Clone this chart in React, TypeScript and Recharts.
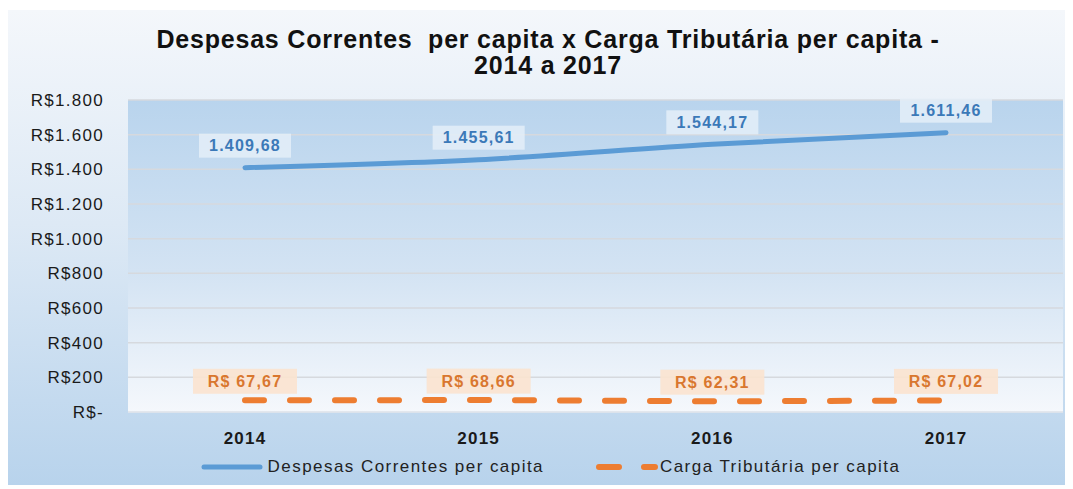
import { CartesianGrid, LabelList, Legend, Line, LineChart, XAxis, YAxis } from "recharts";

const years = ["2014", "2015", "2016", "2017"];
const despesas = [1409.68, 1455.61, 1544.17, 1611.46];
const carga = [67.67, 68.66, 62.31, 67.02];
const yTicks = [0, 200, 400, 600, 800, 1000, 1200, 1400, 1600, 1800];

const data = years.map((year, i) => ({
  year,
  despesas: despesas[i],
  carga: carga[i],
}));

const FONT = "'Liberation Sans', Arial, sans-serif";
const BLUE = "#5b9bd5";
const ORANGE = "#ed7d31";

const brl = (v: number) =>
  v.toFixed(2).replace(".", ",").replace(/\B(?=(\d{3})+(?!\d))/g, ".");

const yFmt = (v: number) =>
  v === 0 ? "R$-" : "R$" + String(v).replace(/\B(?=(\d{3})+(?!\d))/g, ".");

const BlueLabel = (props: any) => {
  const { x, y, value } = props;
  const cy = y - 22;
  return (
    <g>
      <rect x={x - 46} y={cy - 12} width={92} height={24} fill="#e4eef8" fillOpacity={0.85} />
      <text
        x={x}
        y={cy}
        textAnchor="middle"
        dominantBaseline="central"
        fill="#3b79b8"
        fontFamily={FONT}
        fontWeight="bold"
        fontSize={16}
        letterSpacing={1.2}
      >
        {brl(value)}
      </text>
    </g>
  );
};

const OrangeLabel = (props: any) => {
  const { x, y, value } = props;
  const cy = y - 19;
  return (
    <g>
      <rect x={x - 52} y={cy - 12.5} width={104} height={25} fill="#fbe3cf" fillOpacity={0.9} />
      <text
        x={x}
        y={cy}
        textAnchor="middle"
        dominantBaseline="central"
        fill="#d9772f"
        fontFamily={FONT}
        fontWeight="bold"
        fontSize={16}
        letterSpacing={1.2}
      >
        {"R$ " + brl(value)}
      </text>
    </g>
  );
};

// legenda desenhada à mão para imitar o estilo do Excel
const renderLegend = () => (
  <div
    style={{
      display: "flex",
      justifyContent: "center",
      alignItems: "center",
      fontFamily: FONT,
      fontSize: 17,
      letterSpacing: 1.45,
      color: "#222",
      height: 26,
      paddingLeft: 30,
    }}
  >
    <svg width={62} height={10}>
      <line x1={3} y1={5} x2={59} y2={5} stroke={BLUE} strokeWidth={5} strokeLinecap="round" />
    </svg>
    <span style={{ marginLeft: 5, marginRight: 52 }}>Despesas Correntes per capita</span>
    <svg width={62} height={10}>
      <line
        x1={3}
        y1={5}
        x2={59}
        y2={5}
        stroke={ORANGE}
        strokeWidth={6}
        strokeLinecap="round"
        strokeDasharray="20 25"
      />
    </svg>
    <span style={{ marginLeft: 2 }}>Carga Tributária per capita</span>
  </div>
);

export default function App() {
  return (
    <div style={{ paddingTop: 2 }}>
      <div
        style={{
          position: "relative",
          width: 1057,
          height: 475,
          background: "linear-gradient(to bottom, #f4f7fb 0%, #dde9f5 45%, #b8d3ec 100%)",
        }}
      >
        <div
          style={{
            position: "absolute",
            top: 16,
            left: 0,
            width: 1080,
            textAlign: "center",
            fontFamily: FONT,
            fontWeight: "bold",
            fontSize: 25,
            letterSpacing: 0.8,
            lineHeight: "26px",
            color: "#111",
          }}
        >
          Despesas Correntes&nbsp; per capita x Carga Tributária per capita -
          <br />
          2014 a 2017
        </div>
        <LineChart
          width={1057}
          height={475}
          data={data}
          margin={{ top: 90, right: 2, left: 0, bottom: 5 }}
        >
          <defs>
            <linearGradient id="plotBg" x1="0" y1="0" x2="0" y2="1">
              <stop offset="0%" stopColor="#b9d4ed" />
              <stop offset="55%" stopColor="#d3e3f3" />
              <stop offset="100%" stopColor="#f5f8fc" />
            </linearGradient>
          </defs>
          <CartesianGrid
            vertical={false}
            stroke="#d6d9de"
            strokeWidth={1.5}
            fill="url(#plotBg)"
          />
          <XAxis
            dataKey="year"
            height={42}
            padding={{ left: 117, right: 117 }}
            axisLine={{ stroke: "#e8eef5" }}
            tickLine={false}
            tickMargin={14}
            tick={{
              fill: "#1a1a1a",
              fontFamily: FONT,
              fontWeight: "bold",
              fontSize: 17,
              letterSpacing: 1.2,
            }}
          />
          <YAxis
            width={120}
            domain={[0, 1800]}
            ticks={yTicks}
            tickFormatter={yFmt}
            axisLine={false}
            tickLine={false}
            tickMargin={18}
            tick={{ fill: "#1a1a1a", fontFamily: FONT, fontSize: 17, letterSpacing: 1.3 }}
          />
          <Legend verticalAlign="bottom" content={renderLegend} />
          <Line
            type="monotone"
            dataKey="despesas"
            stroke={BLUE}
            strokeWidth={5}
            strokeLinecap="round"
            dot={false}
            isAnimationActive={false}
          >
            <LabelList dataKey="despesas" content={BlueLabel} />
          </Line>
          <Line
            type="monotone"
            dataKey="carga"
            stroke={ORANGE}
            strokeWidth={6}
            strokeLinecap="round"
            strokeDasharray="19 26"
            dot={false}
            isAnimationActive={false}
          >
            <LabelList dataKey="carga" content={OrangeLabel} />
          </Line>
        </LineChart>
      </div>
    </div>
  );
}
